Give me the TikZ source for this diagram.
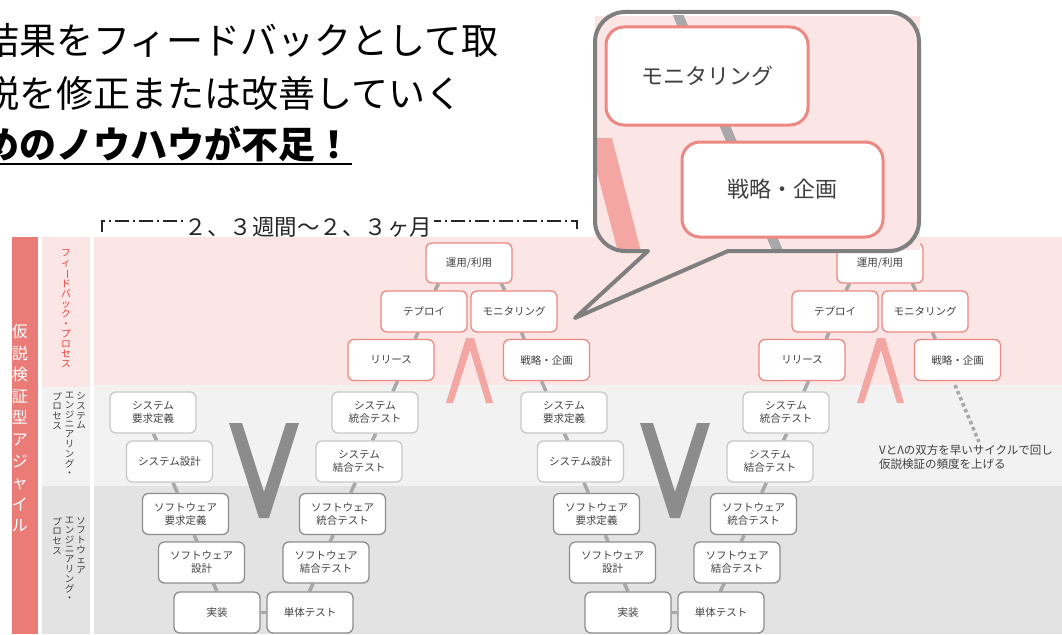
\documentclass[tikz,border=0pt]{standalone}
\usepackage{fontspec}
\setmainfont{Noto Sans CJK JP}
\usepackage{graphicx}
\pgfdeclarelayer{back}
\pgfdeclarelayer{mid}
\pgfsetlayers{back,mid,main}
\definecolor{pinkband}{HTML}{FCE5E5}
\definecolor{lgrayband}{HTML}{F2F2F2}
\definecolor{grayband}{HTML}{E3E3E3}
\definecolor{redbar}{HTML}{EB7B76}
\definecolor{fbred}{HTML}{EC8882}
\definecolor{sysgray}{HTML}{C8C8C8}
\definecolor{swgray}{HTML}{8E8E8E}
\definecolor{conngray}{HTML}{A8A8A8}
\definecolor{vgray}{HTML}{8C8C8C}
\definecolor{lamred}{HTML}{F4A7A2}
\definecolor{callgray}{HTML}{7F7F7F}
\definecolor{fbtext}{HTML}{E8413C}
\definecolor{txtgray}{HTML}{404040}
\newcommand\vbar{\rotatebox[origin=c]{-90}{ー}}
\tikzset{
  box/.style={draw, fill=white, rounded corners=6pt, minimum width=86pt, minimum height=41pt,
    inner sep=1pt, align=center, font=\fontsize{10.5}{13}\selectfont, text=txtgray, line width=1.3pt},
  fbbox/.style={box, draw=fbred},
  sysbox/.style={box, draw=sysgray},
  swbox/.style={box, draw=swgray},
  conn/.style={draw=conngray, line width=3.5pt},
  zfb/.style={draw=fbred, fill=white, line width=3pt, rounded corners=18pt,
    font=\fontsize{22}{24}\selectfont, text=txtgray},
  vlabel/.style={inner sep=0pt, align=center, anchor=north, text=txtgray,
    font=\fontsize{9.5}{9.8}\selectfont},
}
\newcommand\vcycle[2]{%
  \begin{scope}[xshift=#2pt]
    \begin{pgfonlayer}{mid}
      \fill[vgray] (229,423) -- (242,423) -- (264,492) -- (286,423) -- (299,423) -- (269,518) -- (259,518) -- cycle;
      \fill[lamred] (446,403) -- (466,338) -- (474,338) -- (493,403) -- (486,403) -- (470,350) -- (453,403) -- cycle;
    \end{pgfonlayer}
  \end{scope}
  \node[sysbox] (#1sr)  at ({153+#2},412.5) {システム\\要求定義};
  \node[sysbox] (#1sd)  at ({169.5+#2},461.5) {システム設計};
  \node[swbox]  (#1swr) at ({185.5+#2},514) {ソフトウェア\\要求定義};
  \node[swbox]  (#1swd) at ({201.5+#2},562.5) {ソフトウェア\\設計};
  \node[swbox]  (#1impl) at ({217+#2},612.5) {実装};
  \node[swbox]  (#1ut)  at ({310+#2},612.5) {単体テスト};
  \node[swbox]  (#1swi) at ({326+#2},562.5) {ソフトウェア\\結合テスト};
  \node[swbox]  (#1swt) at ({342.5+#2},514) {ソフトウェア\\統合テスト};
  \node[sysbox] (#1si)  at ({359+#2},461.5) {システム\\結合テスト};
  \node[sysbox] (#1st)  at ({375+#2},412.5) {システム\\統合テスト};
  \node[fbbox]  (#1rel) at ({391+#2},360) {リリース};
  \node[fbbox]  (#1dep) at ({424+#2},311.5) {テプロイ};
  \node[fbbox, minimum height=40pt] (#1ops) at ({469+#2},263) {運用/利用};
  \node[fbbox]  (#1mon) at ({514+#2},311.5) {モニタリング};
  \node[fbbox]  (#1str) at ({546.5+#2},360) {戦略・企画};
  \begin{pgfonlayer}{mid}
    \draw[conn] ([xshift=0.4pt]#1sr.south) -- ([xshift=-12.9pt]#1sd.north);
    \draw[conn] ([xshift=3.5pt]#1sd.south) -- ([xshift=-8.1pt]#1swr.north);
    \draw[conn] ([xshift=8.7pt]#1swr.south) -- ([xshift=-4.5pt]#1swd.north);
    \draw[conn] ([xshift=11.9pt]#1swd.south) -- (#1impl.north);
    \draw[conn] (#1impl.east) -- (#1ut.west);
    \draw[conn] ([xshift=-0.7pt]#1ut.north) -- ([xshift=-12.9pt]#1swi.south);
    \draw[conn] ([xshift=4.2pt]#1swi.north) -- ([xshift=-9.3pt]#1swt.south);
    \draw[conn] ([xshift=8.2pt]#1swt.north) -- ([xshift=-3.7pt]#1si.south);
    \draw[conn] ([xshift=13.4pt]#1si.north) -- ([xshift=0.8pt]#1st.south);
    \draw[conn] ([xshift=17.9pt]#1st.north) -- ([xshift=6.5pt]#1rel.south);
    \draw[conn] ([xshift=24.1pt]#1rel.north) -- ([xshift=-6pt]#1dep.south);
    \draw[conn] ([xshift=11.1pt]#1dep.north) -- ([xshift=-30.5pt]#1ops.south);
    \draw[conn] ([xshift=32.4pt]#1ops.south) -- ([xshift=-9.4pt]#1mon.north);
    \draw[conn] ([xshift=7.5pt]#1mon.south) -- ([xshift=-22.2pt]#1str.north);
  \end{pgfonlayer}
}
\begin{document}
\begin{tikzpicture}[x=1pt,y=-1pt]
\useasboundingbox (0,0) rectangle (1062,634);
% top text
\node[anchor=base west, inner sep=0pt, font=\fontsize{37}{40}\selectfont] (t1) at (-18,55) {結果をフィードバックとして取};
\node[anchor=base west, inner sep=0pt, font=\fontsize{37}{40}\selectfont] (t2) at (-18,107) {説を修正または改善していく};
\node[anchor=base west, inner sep=0pt, font=\fontsize{37}{40}\selectfont\bfseries] (t3) at (-18,158) {めのノウハウが不足！};
\draw[line width=2.5pt] (0,164) -- (352,164);
% time frame and bands
\begin{pgfonlayer}{back}
\fill[white] (0,0) rectangle (1062,634);
\draw[line width=1.8pt, draw=black!85, dash pattern=on 14pt off 4pt on 2pt off 4pt] (102,232) -- (102,221) -- (577,221) -- (577,232);
\node[fill=white, inner sep=2pt, font=\fontsize{22.5}{24}\selectfont, text=black!85] (tf) at (308.5,227) {２、３週間～２、３ヶ月};
\fill[redbar] (12,237) rectangle (38,634);
\fill[pinkband] (42,237) rectangle (90,387);
\fill[lgrayband] (42,387) rectangle (90,486);
\fill[grayband] (42,486) rectangle (90,634);
\fill[pinkband] (94,237) rectangle (1062,385);
\fill[lgrayband] (94,385) rectangle (1062,486);
\fill[grayband] (94,486) rectangle (1062,634);
\end{pgfonlayer}
\node[inner sep=0pt, align=center, anchor=north, text=white, font=\fontsize{16}{21.6}\selectfont] (bar) at (20,324) {仮\\説\\検\\証\\型\\ア\\ジ\\ャ\\イ\\ル};
\node[vlabel, text=fbtext, font=\fontsize{9.8}{10}\selectfont] (fbl) at (66,249) {フ\\ィ\\\vbar\\ド\\バ\\ッ\\ク\\・\\プ\\ロ\\セ\\ス};
\node[vlabel] (sys1) at (81,392) {シ\\ス\\テ\\ム};
\node[vlabel] (sys2) at (69.5,392) {エ\\ン\\ジ\\ニ\\ア\\リ\\ン\\グ\\・};
\node[vlabel] (sys3) at (57,392) {プ\\ロ\\セ\\ス};
\node[vlabel] (sw1) at (81,517) {ソ\\フ\\ト\\ウ\\ェ\\ア};
\node[vlabel] (sw2) at (69.5,517) {エ\\ン\\ジ\\ニ\\ア\\リ\\ン\\グ\\・};
\node[vlabel] (sw3) at (57,517) {プ\\ロ\\セ\\ス};
% cycles
\vcycle{a}{0}
\vcycle{b}{411}
\begin{pgfonlayer}{mid}
\draw[conn] ([xshift=-5pt]astr.south) -- ([xshift=-18pt]bsr.north);
\coordinate (dotend) at (979,442);
\draw[draw=conngray, line width=3.5pt, dash pattern=on 3.5pt off 3pt] ([xshift=-2.5pt,yshift=-4pt]bstr.south) -- (dotend);
\end{pgfonlayer}
\node[anchor=north west, align=left, inner sep=0pt, text=txtgray, font=\fontsize{11.5}{14}\selectfont] (note) at (879,445) {VとΛの双方を早いサイクルで回し\\仮説検証の頻度を上げる};
% callout
\fill[pinkband] (595,16) rectangle (920,250);
\begin{scope}
\clip (595,16) rectangle (920,250);
\fill[lamred] (588,138) -- (612,138) -- (641,252) -- (618,252) -- cycle;
\draw[draw=conngray, line width=10pt] (676,10) -- (790,280);
\node[zfb, minimum width=202pt, minimum height=98pt] (zm) at (707,76) {モニタリング};
\node[zfb, minimum width=201pt, minimum height=95pt] (zs) at (782.5,189.5) {戦略・企画};
\end{scope}
\draw[draw=callgray, line width=4pt, line join=round]
  (648,251) -- (625,251) arc[start angle=90, end angle=180, radius=30]
  -- (595,42) arc[start angle=180, end angle=270, radius=30]
  -- (889,12) arc[start angle=270, end angle=360, radius=30]
  -- (919,221) arc[start angle=0, end angle=90, radius=30]
  -- (728,251) -- (575,318) -- cycle;
\end{tikzpicture}
\end{document}
